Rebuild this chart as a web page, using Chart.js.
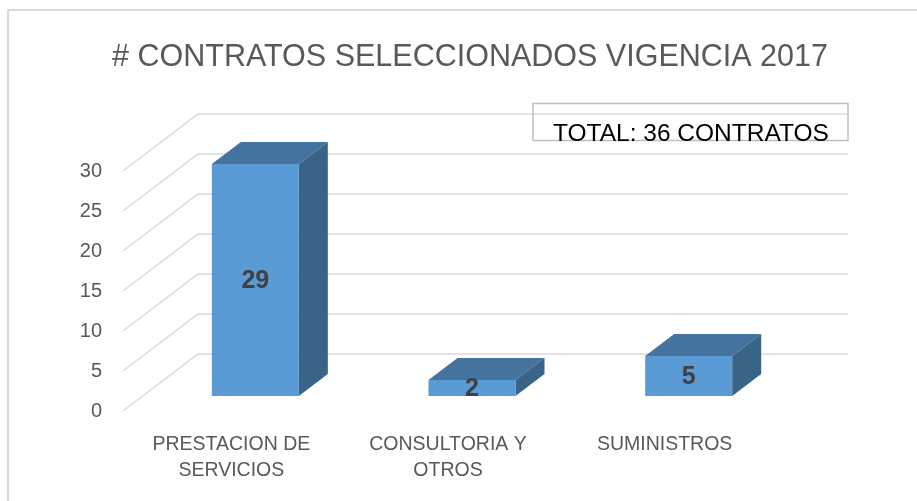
<!DOCTYPE html>
<html lang="es">

<head>
    <meta charset="UTF-8">
    <title>Contratos 2017</title>
    <script src="https://cdn.jsdelivr.net/npm/chart.js@4.4.1/dist/chart.umd.min.js"></script>
    <style>
        body { margin: 0; background: #fff; }
        #wrap { position: relative; width: 917px; height: 501px; }
    </style>
</head>

<body>
    <div id="wrap">
        <canvas id="contratosChart"></canvas>
    </div>

    <script>
        // datos del grafico
        const categorias = [['PRESTACION DE', 'SERVICIOS'], ['CONSULTORIA Y', 'OTROS'], ['SUMINISTROS']];
        const contratos = [29, 2, 5];
        const tituloTexto = '# CONTRATOS SELECCIONADOS VIGENCIA 2017';
        const totalTexto = 'TOTAL: 36 CONTRATOS';

        const FUENTE = '"Liberation Sans", Arial, sans-serif';

        // profundidad del "3D": pared de fondo y posicion de las columnas
        const fondo = { dx: 75, dy: -57 };
        const frenteBarra = { dx: 24, dy: -15 };
        const grosor = { dx: 29, dy: -22 };
        const anchoBarra = 87;

        const efecto3D = {
            id: 'efecto3D',
            beforeDatasetsDraw(chart) {
                const { ctx, chartArea, scales: { y } } = chart;
                ctx.save();
                ctx.strokeStyle = '#d9d9d9';
                ctx.lineWidth = 1.5;
                y.ticks.forEach(t => {
                    const py = y.getPixelForValue(t.value);
                    ctx.beginPath();
                    ctx.moveTo(chartArea.left, py);
                    ctx.lineTo(chartArea.left + fondo.dx, py + fondo.dy);
                    ctx.lineTo(chartArea.right + fondo.dx, py + fondo.dy);
                    ctx.stroke();
                });
                // borde exterior del grafico
                ctx.lineWidth = 2;
                ctx.beginPath();
                ctx.moveTo(8, 501);
                ctx.lineTo(8, 10);
                ctx.lineTo(917, 10);
                ctx.stroke();
                // titulo
                ctx.fillStyle = '#595959';
                ctx.font = '30.5px ' + FUENTE;
                ctx.textAlign = 'center';
                ctx.textBaseline = 'alphabetic';
                ctx.fillText(tituloTexto, 470, 66);
                ctx.restore();
            },
            afterDatasetsDraw(chart) {
                const { ctx, scales: { x, y } } = chart;
                ctx.save();
                contratos.forEach((v, i) => {
                    const cx = x.getPixelForValue(i) + frenteBarra.dx;
                    const l = cx - anchoBarra / 2;
                    const r = cx + anchoBarra / 2;
                    const top = y.getPixelForValue(v) + frenteBarra.dy;
                    const bot = y.getPixelForValue(0) + frenteBarra.dy;
                    // cara superior
                    ctx.fillStyle = '#44739f';
                    ctx.beginPath();
                    ctx.moveTo(l, top);
                    ctx.lineTo(l + grosor.dx, top + grosor.dy);
                    ctx.lineTo(r + grosor.dx, top + grosor.dy);
                    ctx.lineTo(r, top);
                    ctx.closePath();
                    ctx.fill();
                    // cara lateral
                    ctx.fillStyle = '#3a6388';
                    ctx.beginPath();
                    ctx.moveTo(r, top);
                    ctx.lineTo(r + grosor.dx, top + grosor.dy);
                    ctx.lineTo(r + grosor.dx, bot + grosor.dy);
                    ctx.lineTo(r, bot);
                    ctx.closePath();
                    ctx.fill();
                    // cara frontal
                    ctx.fillStyle = '#5b9bd5';
                    ctx.fillRect(l, top, anchoBarra, bot - top);
                    // etiqueta
                    ctx.fillStyle = '#404040';
                    ctx.font = 'bold 25px ' + FUENTE;
                    ctx.textAlign = 'center';
                    ctx.textBaseline = 'middle';
                    ctx.fillText(String(v), cx, (top + bot) / 2 + 1);
                });
                ctx.restore();
            },
            afterDraw(chart) {
                const { ctx } = chart;
                ctx.save();
                ctx.strokeStyle = '#bfbfbf';
                ctx.lineWidth = 1.5;
                ctx.strokeRect(533, 103.5, 315, 37);
                ctx.fillStyle = '#000';
                ctx.font = '24.5px ' + FUENTE;
                ctx.textAlign = 'left';
                ctx.textBaseline = 'alphabetic';
                ctx.fillText(totalTexto, 553, 141);
                ctx.restore();
            }
        };

        const ctx = document.getElementById('contratosChart').getContext('2d');
        new Chart(ctx, {
            type: 'bar',
            data: {
                labels: categorias,
                datasets: [{
                    label: 'Contratos',
                    data: contratos,
                    backgroundColor: 'rgba(0,0,0,0)',
                    borderWidth: 0
                }]
            },
            options: {
                responsive: true,
                maintainAspectRatio: false,
                animation: false,
                layout: { padding: { left: 0, right: 144, top: 171, bottom: 0 } },
                plugins: {
                    legend: { display: false },
                    tooltip: { enabled: false },
                    title: { display: false }
                },
                scales: {
                    x: {
                        grid: { display: false, drawTicks: false },
                        border: { display: false },
                        ticks: {
                            color: '#595959',
                            font: { family: FUENTE, size: 19.5, lineHeight: 1.33 },
                            padding: 21,
                            maxRotation: 0,
                            autoSkip: false
                        },
                        afterFit(scale) { scale.height = 90; }
                    },
                    y: {
                        min: 0,
                        max: 30,
                        grid: { display: false, drawTicks: false },
                        border: { display: false },
                        ticks: {
                            stepSize: 5,
                            color: '#595959',
                            font: { family: FUENTE, size: 20 },
                            padding: 21
                        },
                        afterFit(scale) { scale.width = 123; }
                    }
                }
            },
            plugins: [efecto3D]
        });
    </script>
</body>

</html>
